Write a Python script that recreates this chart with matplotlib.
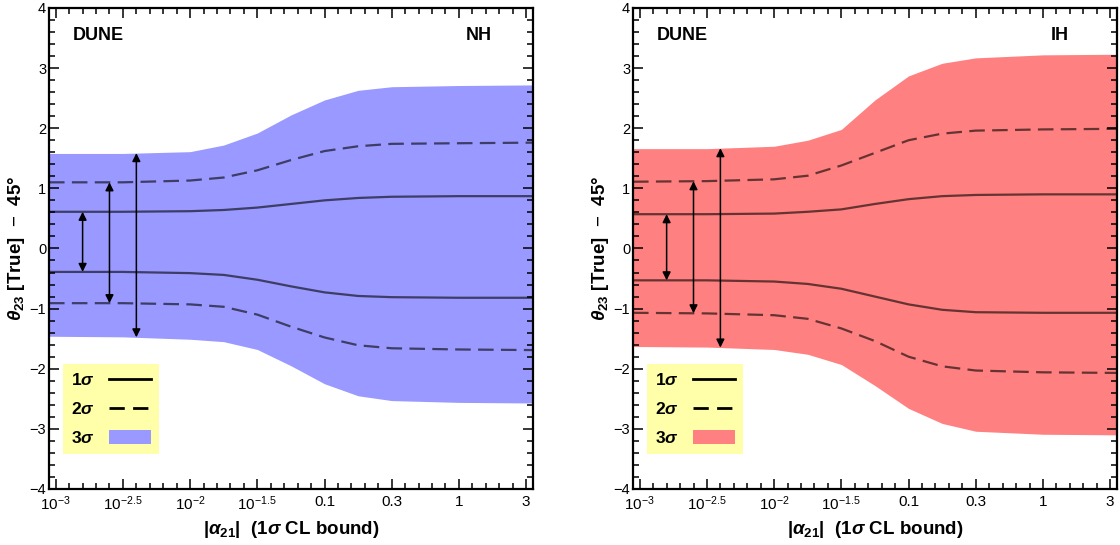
import numpy as np
import matplotlib
matplotlib.use("Agg")
import matplotlib.pyplot as plt
from matplotlib.lines import Line2D
from matplotlib.patches import Patch
from matplotlib.ticker import FixedLocator, FixedFormatter

plt.rcParams['font.family'] = ['Liberation Sans', 'DejaVu Sans']
plt.rcParams['mathtext.fontset'] = 'custom'
plt.rcParams['mathtext.rm'] = 'Liberation Sans'
plt.rcParams['mathtext.it'] = 'Liberation Sans:italic:bold'
plt.rcParams['mathtext.bf'] = 'Liberation Sans:bold'

# x grid as log10 of |alpha_21|
log_alpha = [-3.05, -2.5, -2.0, -1.75, -1.5, -1.25, -1.0, -0.75, -0.5, 0.0, 0.55]

# Normal hierarchy contours (theta23 - 45 deg)
nh_3s_hi = [1.58, 1.58, 1.61, 1.72, 1.92, 2.22, 2.47, 2.63, 2.69, 2.71, 2.72]
nh_3s_lo = [-1.46, -1.47, -1.51, -1.55, -1.68, -1.95, -2.25, -2.45, -2.53, -2.56, -2.57]
nh_2s_hi = [1.10, 1.10, 1.13, 1.18, 1.30, 1.47, 1.62, 1.70, 1.74, 1.75, 1.76]
nh_2s_lo = [-0.91, -0.91, -0.93, -0.97, -1.10, -1.30, -1.48, -1.61, -1.66, -1.68, -1.69]
nh_1s_hi = [0.61, 0.61, 0.62, 0.64, 0.68, 0.74, 0.80, 0.84, 0.86, 0.87, 0.87]
nh_1s_lo = [-0.39, -0.39, -0.41, -0.44, -0.52, -0.63, -0.73, -0.79, -0.81, -0.82, -0.82]

# Inverted hierarchy contours
ih_3s_hi = [1.66, 1.66, 1.70, 1.80, 1.98, 2.47, 2.87, 3.08, 3.17, 3.22, 3.23]
ih_3s_lo = [-1.63, -1.64, -1.68, -1.76, -1.93, -2.28, -2.66, -2.91, -3.04, -3.09, -3.10]
ih_2s_hi = [1.11, 1.12, 1.15, 1.21, 1.38, 1.59, 1.80, 1.91, 1.96, 1.98, 1.99]
ih_2s_lo = [-1.07, -1.08, -1.11, -1.17, -1.33, -1.54, -1.80, -1.96, -2.03, -2.06, -2.07]
ih_1s_hi = [0.57, 0.57, 0.58, 0.61, 0.65, 0.74, 0.82, 0.87, 0.89, 0.90, 0.90]
ih_1s_lo = [-0.53, -0.53, -0.55, -0.59, -0.67, -0.80, -0.93, -1.02, -1.06, -1.07, -1.07]

# where the double arrows sit (log10 alpha)
arrow_log_alpha = [-2.8, -2.6, -2.4]

tick_log = [-3, -2.5, -2, -1.5, -1, -0.5, 0, 0.5]
tick_labels = [r'$10^{-3}$', r'$10^{-2.5}$', r'$10^{-2}$', r'$10^{-1.5}$',
               '0.1', '0.3', '1', '3']

line_col = (0, 0, 0, 0.6)
dash = (0, (7, 3.3))


def plot_panel(ax, band_col, s3, s2, s1, tag, tag_x):
    x = 10.0 ** np.array(log_alpha)
    ax.fill_between(x, s3[0], s3[1], color=band_col, lw=0, zorder=1)
    for y in s2:
        ax.plot(x, y, color=line_col, lw=1.6, ls=dash, zorder=2)
    for y in s1:
        ax.plot(x, y, color=line_col, lw=1.6, zorder=2)

    # double arrows from lower to upper contour
    for xa, (lo, hi) in zip(arrow_log_alpha, [s1, s2, s3]):
        y_lo = np.interp(xa, log_alpha, lo)
        y_hi = np.interp(xa, log_alpha, hi)
        ax.annotate('', xy=(10 ** xa, y_hi), xytext=(10 ** xa, y_lo),
                    arrowprops=dict(arrowstyle='<|-|>', color='k', lw=1.1,
                                    mutation_scale=12, shrinkA=0, shrinkB=0),
                    zorder=3)

    ax.set_xscale('log')
    ax.set_xlim(10 ** -3.05, 10 ** 0.55)
    ax.set_ylim(-4, 4)
    ax.xaxis.set_major_locator(FixedLocator([10 ** t for t in tick_log]))
    ax.xaxis.set_major_formatter(FixedFormatter(tick_labels))
    minor = [10 ** (t / 10) for t in range(-30, 6) if t % 5 != 0]
    ax.xaxis.set_minor_locator(FixedLocator(minor))
    ax.xaxis.set_minor_formatter(FixedFormatter([''] * len(minor)))
    ax.set_yticks(range(-4, 5))
    ax.set_yticks(np.arange(-4, 4.01, 0.2), minor=True)

    ax.tick_params(which='both', direction='in', top=True, right=True, width=1.1)
    ax.tick_params(which='major', length=7.5)
    ax.tick_params(which='minor', length=4)
    ax.tick_params(axis='x', labelsize=11, pad=4)
    ax.tick_params(axis='y', labelsize=10.5, pad=2)
    for sp in ax.spines.values():
        sp.set_linewidth(1.6)

    ax.text(0.05, 0.933, 'DUNE', transform=ax.transAxes, fontsize=13,
            fontweight='bold')
    ax.text(tag_x, 0.933, tag, transform=ax.transAxes, fontsize=13,
            fontweight='bold', ha='right')

    ax.set_xlabel(r'|$\alpha_{\mathbf{21}}$|  (1$\sigma$ CL bound)',
                  fontsize=13.5, fontweight='bold', labelpad=4)
    ax.set_ylabel(r'$\theta_{\mathbf{23}}$ [True]  $-$  45°',
                  fontsize=13.5, fontweight='bold', labelpad=2)

    handles = [Line2D([], [], color='k', lw=2),
               Line2D([], [], color='k', lw=2, ls=(0, (5.5, 3))),
               Patch(facecolor=band_col, edgecolor='none')]
    labels = [r'1$\sigma$', r'2$\sigma$', r'3$\sigma$']
    leg = ax.legend(handles, labels, loc='lower left',
                    bbox_to_anchor=(0.029, 0.073), markerfirst=False,
                    fancybox=False, framealpha=1, facecolor='#FFFFAA',
                    edgecolor='none', borderpad=0.45, labelspacing=0.75,
                    handlelength=2.4, handleheight=0.8, handletextpad=0.85,
                    borderaxespad=0, prop={'weight': 'bold', 'size': 12.5})
    leg.get_frame().set_linewidth(0)


fig = plt.figure(figsize=(11.2, 5.45), dpi=100)
ax1 = fig.add_axes([0.04375, 0.1028, 0.432, 0.8826])
ax2 = fig.add_axes([0.5652, 0.1028, 0.432, 0.8826])

plot_panel(ax1, '#9999FF', (nh_3s_lo, nh_3s_hi), (nh_2s_lo, nh_2s_hi),
           (nh_1s_lo, nh_1s_hi), 'NH', 0.915)
plot_panel(ax2, '#FF8080', (ih_3s_lo, ih_3s_hi), (ih_2s_lo, ih_2s_hi),
           (ih_1s_lo, ih_1s_hi), 'IH', 0.90)

fig.savefig('out.png', dpi=100)
